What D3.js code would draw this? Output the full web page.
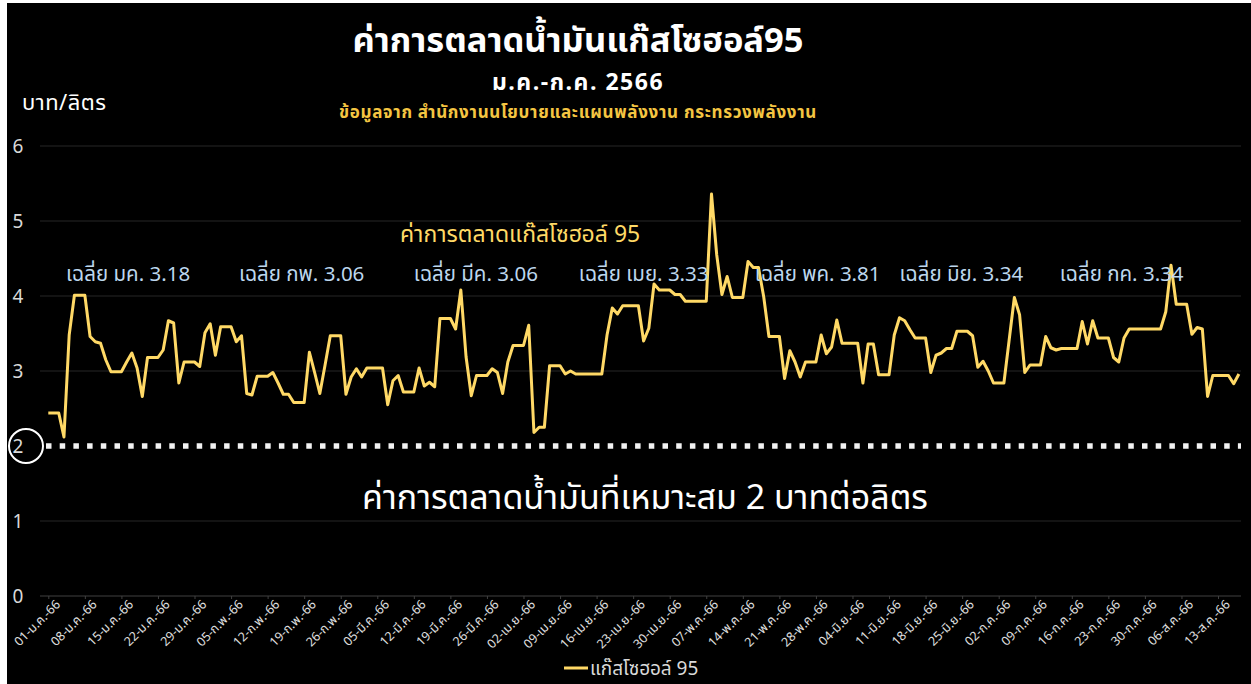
<!DOCTYPE html>
<html lang="th">
<head>
    <meta charset="UTF-8">
    <title>ค่าการตลาดน้ำมันแก๊สโซฮอล์95</title>
    <style>
        body{
            margin: 0;
            background: #fff;
        }
        svg{
            display: block;
        }
        text{
            font-family: "Leelawadee UI", "Noto Sans Thai", "Noto Sans", sans-serif;
        }
    </style>
    <script src="https://cdn.jsdelivr.net/npm/d3@7"></script>
</head>
<body>
<script>
    const width = 1251
    const height = 684

    // daily marketing margin, baht/litre, 1 Jan 2566 onwards
    const startDate = new Date(2023, 0, 1)
    const prices = [
        2.44,2.44,2.44,2.12,3.48,4.01,4.01,4.01,3.46,3.39,3.37,3.15,2.99,2.99,2.99,3.12,3.24,3.04,2.66,3.18,
        3.18,3.18,3.28,3.67,3.64,2.84,3.12,3.12,3.12,3.06,3.51,3.63,3.21,3.59,3.59,3.59,3.39,3.47,2.70,2.68,
        2.93,2.93,2.93,2.98,2.84,2.69,2.69,2.58,2.58,2.58,3.25,2.98,2.70,3.08,3.47,3.47,3.47,2.69,2.92,3.03,
        2.92,3.04,3.04,3.04,3.04,2.55,2.87,2.94,2.72,2.72,2.72,3.04,2.80,2.85,2.79,3.70,3.70,3.70,3.56,4.08,
        3.19,2.67,2.94,2.94,2.94,3.03,2.98,2.70,3.12,3.34,3.34,3.34,3.61,2.18,2.25,2.25,3.07,3.07,3.07,2.96,
        3.00,2.96,2.96,2.96,2.96,2.96,2.96,3.48,3.84,3.76,3.87,3.87,3.87,3.87,3.40,3.57,4.16,4.08,4.08,4.08,
        4.02,4.02,3.93,3.93,3.93,3.93,3.93,5.36,4.55,4.02,4.26,3.98,3.98,3.98,4.46,4.38,4.38,3.99,3.46,3.46,
        3.46,2.90,3.27,3.12,2.92,3.12,3.12,3.12,3.48,3.23,3.32,3.68,3.37,3.37,3.37,3.37,2.84,3.36,3.36,2.95,
        2.95,2.95,3.48,3.71,3.67,3.55,3.44,3.44,3.44,2.98,3.21,3.24,3.30,3.30,3.53,3.53,3.53,3.47,3.05,3.13,
        3.00,2.84,2.84,2.84,3.41,3.98,3.75,2.98,3.08,3.08,3.08,3.46,3.31,3.28,3.30,3.30,3.30,3.30,3.66,3.36,
        3.67,3.44,3.44,3.44,3.18,3.12,3.44,3.56,3.56,3.56,3.56,3.56,3.56,3.56,3.79,4.41,3.89,3.89,3.89,3.49,
        3.58,3.56,2.66,2.94,2.94,2.94,2.94,2.83,2.96
    ]

    const tickLabels = [
        "01-ม.ค.-66","08-ม.ค.-66","15-ม.ค.-66","22-ม.ค.-66","29-ม.ค.-66","05-ก.พ.-66","12-ก.พ.-66",
        "19-ก.พ.-66","26-ก.พ.-66","05-มี.ค.-66","12-มี.ค.-66","19-มี.ค.-66","26-มี.ค.-66","02-เม.ย.-66",
        "09-เม.ย.-66","16-เม.ย.-66","23-เม.ย.-66","30-เม.ย.-66","07-พ.ค.-66","14-พ.ค.-66","21-พ.ค.-66",
        "28-พ.ค.-66","04-มิ.ย.-66","11-มิ.ย.-66","18-มิ.ย.-66","25-มิ.ย.-66","02-ก.ค.-66","09-ก.ค.-66",
        "16-ก.ค.-66","23-ก.ค.-66","30-ก.ค.-66","06-ส.ค.-66","13-ส.ค.-66"
    ]
    const yTicks = [0,1,2,3,4,5,6]

    const avgLabels = ["เฉลี่ย มค. 3.18","เฉลี่ย กพ. 3.06","เฉลี่ย มีค. 3.06","เฉลี่ย เมย. 3.33",
        "เฉลี่ย พค. 3.81","เฉลี่ย มิย. 3.34","เฉลี่ย กค. 3.34"]
    // day (from 1 Jan) where each average label starts
    const avgDays = [3.4,36.5,70,101.6,135.3,163,193.7]

    const targetValue = 2

    const dayMs = 24*3600*1000
    const data = prices.map((v,i)=>({date:new Date(startDate.getTime()+i*dayMs), value:v}))

    let svg=d3.select("body").append("svg")
        .attr("width",width).attr("height",height)

    svg.append("rect")
        .attr("x",7).attr("y",3)
        .attr("width",width-7).attr("height",height-3)
        .attr("fill","#000")

    const x = d3.scaleTime()
        .domain([startDate, data[data.length-1].date])
        .range([48.3, 1238.9])
    const y = d3.scaleLinear().domain([0,6]).range([596,146])

    //gridlines
    svg.append("g").selectAll("line")
        .data(yTicks.filter(d=>d>0 && d!==targetValue))
        .enter().append("line")
        .attr("x1",40).attr("x2",1241)
        .attr("y1",d=>y(d)).attr("y2",d=>y(d))
        .attr("stroke","#262626").attr("stroke-width",1)

    //y labels
    svg.append("g").selectAll("text")
        .data(yTicks).enter().append("text")
        .attr("x",18).attr("y",d=>y(d))
        .attr("dy","0.35em")
        .attr("text-anchor","middle")
        .attr("fill","#d9d9d9")
        .attr("font-size",19)
        .text(d=>d)

    //x axis
    const tickDates = tickLabels.map((d,i)=>new Date(startDate.getTime()+i*7*dayMs))
    const xAxis = d3.axisBottom(x)
        .tickValues(tickDates)
        .tickSize(3)
        .tickFormat((d,i)=>tickLabels[i])
    const gx = svg.append("g")
        .attr("transform",`translate(0,${y(0)})`)
        .call(xAxis)
    gx.select(".domain").attr("stroke","#404040").attr("d",`M40,0H1241`)
    gx.selectAll(".tick line").attr("stroke","#404040")
    gx.selectAll(".tick text")
        .attr("fill","#e0e0e0")
        .attr("font-size",12.5)
        .attr("text-anchor","end")
        .attr("transform","translate(6,3) rotate(-45)")
        .attr("dy","0.7em")
        .attr("y",0)

    //target line
    svg.append("line")
        .attr("x1",46).attr("x2",1241)
        .attr("y1",y(targetValue)).attr("y2",y(targetValue))
        .attr("stroke","#f2f2f2")
        .attr("stroke-width",5.5)
        .attr("stroke-dasharray","5.5 8.2")
    svg.append("circle")
        .attr("cx",26).attr("cy",y(targetValue))
        .attr("r",17)
        .attr("fill","none")
        .attr("stroke","#fff")
        .attr("stroke-width",2)

    //price line
    const line = d3.line().x(d=>x(d.date)).y(d=>y(d.value))
    svg.append("path")
        .datum(data)
        .attr("d",line)
        .attr("fill","none")
        .attr("stroke","#ffd966")
        .attr("stroke-width",3)
        .attr("stroke-linejoin","round")

    //monthly average labels
    svg.append("g").selectAll("text")
        .data(avgLabels).enter().append("text")
        .attr("x",(d,i)=>x(new Date(startDate.getTime()+avgDays[i]*dayMs)))
        .attr("y",281)
        .attr("fill","#bdd7ee")
        .attr("font-size",20.5)
        .text(d=>d)

    svg.append("text")
        .attr("x",400).attr("y",242)
        .attr("fill","#ffd966")
        .attr("font-size",23)
        .text("ค่าการตลาดแก๊สโซฮอล์ 95")

    svg.append("text")
        .attr("x",645).attr("y",509)
        .attr("text-anchor","middle")
        .attr("fill","#fff")
        .attr("font-size",34)
        .text("ค่าการตลาดน้ำมันที่เหมาะสม 2 บาทต่อลิตร")

    //titles
    svg.append("text")
        .attr("x",578).attr("y",52)
        .attr("text-anchor","middle")
        .attr("fill","#fff")
        .attr("font-size",34.5)
        .attr("font-weight","bold")
        .text("ค่าการตลาดน้ำมันแก๊สโซฮอล์95")
    svg.append("text")
        .attr("x",578).attr("y",90)
        .attr("text-anchor","middle")
        .attr("fill","#fff")
        .attr("font-size",23)
        .attr("font-weight","bold")
        .attr("letter-spacing",1.5)
        .text("ม.ค.-ก.ค. 2566")
    svg.append("text")
        .attr("x",578).attr("y",118)
        .attr("text-anchor","middle")
        .attr("fill","#f4c542")
        .attr("font-size",17)
        .attr("font-weight","bold")
        .attr("letter-spacing",0.7)
        .text("ข้อมูลจาก สำนักงานนโยบายและแผนพลังงาน กระทรวงพลังงาน")
    svg.append("text")
        .attr("x",22).attr("y",110)
        .attr("fill","#fff")
        .attr("font-size",22)
        .attr("letter-spacing",0.5)
        .text("บาท/ลิตร")

    //legend
    svg.append("line")
        .attr("x1",564).attr("x2",588)
        .attr("y1",668).attr("y2",668)
        .attr("stroke","#ffd966").attr("stroke-width",3)
    svg.append("text")
        .attr("x",590).attr("y",668)
        .attr("dy","0.35em")
        .attr("fill","#d9d9d9")
        .attr("font-size",19)
        .text("แก๊สโซฮอล์ 95")
</script>
</body>
</html>
